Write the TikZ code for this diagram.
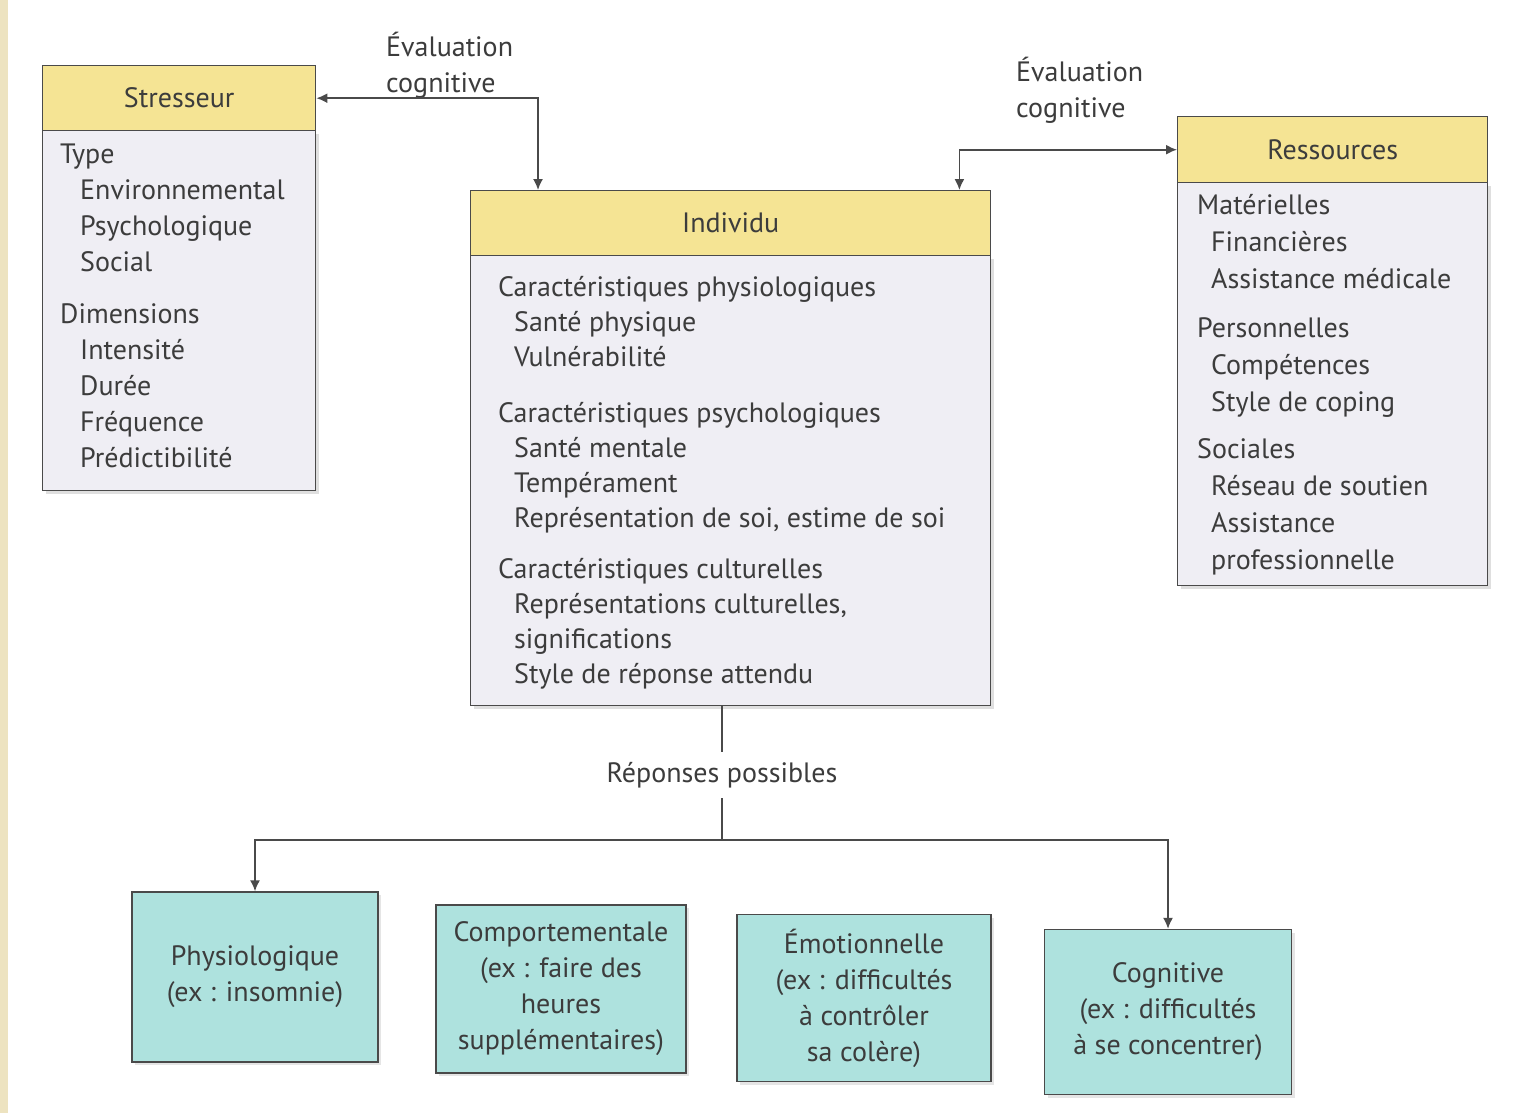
\documentclass[tikz,border=0pt]{standalone}
\usepackage{fontspec}
\setmainfont{PT Sans}
\usetikzlibrary{arrows.meta,calc,shadows}
\definecolor{hdrY}{HTML}{F5E494}
\definecolor{bodyG}{HTML}{EFEEF4}
\definecolor{respT}{HTML}{AEE2DE}
\definecolor{lineC}{HTML}{4A4A4A}
\definecolor{txtC}{HTML}{3C3C3C}
\definecolor{stripC}{HTML}{EDE3C0}
\newcommand{\ind}{\hspace*{20pt}}
\begin{document}
\begin{tikzpicture}[x=1pt,y=-1pt,
  every node/.style={text=txtC},
  fnt/.style={font=\fontsize{28}{36}\selectfont},
  hdr/.style={draw=lineC, line width=1.4, fill=hdrY, anchor=north west, fnt, inner sep=0},
  bodyb/.style={draw=lineC, line width=1.4, fill=bodyG, anchor=north west, inner sep=0,
     drop shadow={shadow xshift=3pt, shadow yshift=-3pt, opacity=0.25}},
  btxt/.style={anchor=north west, align=left, inner sep=0, fnt},
  resp/.style={draw=lineC, line width=1.4, fill=respT, align=center, inner sep=0, fnt,
     drop shadow={shadow xshift=3pt, shadow yshift=-3pt, opacity=0.2}},
  lbl/.style={inner sep=0, fnt},
  conn/.style={draw=lineC, line width=1.6},
  arr/.style={conn, -{Latex[length=11,width=10]}},
  darr/.style={conn, {Latex[length=11,width=10]}-{Latex[length=11,width=10]}}
]
\useasboundingbox (0,0) rectangle (1517,1113);
\fill[white] (0,0) rectangle (1517,1113);
\fill[stripC] (0,0) rectangle (8,1113);

% Stresseur
\node[bodyb, minimum width=273, minimum height=360] (sbody) at (42,130) {};
\node[hdr, minimum width=273, minimum height=65] (shdr) at (42,65) {Stresseur};
\node[btxt] (stxt) at ($(sbody.north west)+(18,14)$) {Type\\
\ind Environnemental\\
\ind Psychologique\\
\ind Social\\[16pt]
Dimensions\\
\ind Intensité\\
\ind Durée\\
\ind Fréquence\\
\ind Prédictibilité};

% Individu
\node[bodyb, minimum width=520, minimum height=450] (ibody) at (470,255) {};
\node[hdr, minimum width=520, minimum height=65] (ihdr) at (470,190) {Individu};
\node[btxt, font=\fontsize{28}{35}\selectfont] (itxt) at ($(ibody.north west)+(28,21)$) {Caractéristiques physiologiques\\
\hspace*{16pt}Santé physique\\
\hspace*{16pt}Vulnérabilité\\[21pt]
Caractéristiques psychologiques\\
\hspace*{16pt}Santé mentale\\
\hspace*{16pt}Tempérament\\
\hspace*{16pt}Représentation de soi, estime de soi\\[16pt]
Caractéristiques culturelles\\
\hspace*{16pt}Représentations culturelles,\\
\hspace*{16pt}significations\\
\hspace*{16pt}Style de réponse attendu};

% Ressources
\node[bodyb, minimum width=310, minimum height=403] (rbody) at (1177,182) {};
\node[hdr, minimum width=310, minimum height=66] (rhdr) at (1177,116) {Ressources};
\node[btxt, font=\fontsize{28}{37}\selectfont] (rtxt) at ($(rbody.north west)+(20,12)$) {Matérielles\\
\hspace*{14pt}Financières\\
\hspace*{14pt}Assistance médicale\\[12pt]
Personnelles\\
\hspace*{14pt}Compétences\\
\hspace*{14pt}Style de coping\\[10pt]
Sociales\\
\hspace*{14pt}Réseau de soutien\\
\hspace*{14pt}Assistance\\
\hspace*{14pt}professionnelle};

% Labels
\node[lbl, anchor=north west, align=left] (ev1) at (386,32) {Évaluation\\cognitive};
\node[lbl, anchor=north west, align=left] (ev2) at (1016,57) {Évaluation\\cognitive};
\node[lbl] (rep) at (722,775) {Réponses possibles};

% Response boxes
\node[resp, minimum width=246, minimum height=170] (phys) at (255,977) {Physiologique\\(ex : insomnie)};
\node[resp, minimum width=250, minimum height=168] (comp) at (561,989) {Comportementale\\(ex : faire des\\heures\\supplémentaires)};
\node[resp, minimum width=254, minimum height=167] (emo) at (864,998) {Émotionnelle\\(ex : difficultés\\à contrôler\\sa colère)};
\node[resp, minimum width=247, minimum height=165] (cog) at (1168,1012) {Cognitive\\(ex : difficultés\\à se concentrer)};

% Connectors
\draw[darr] (shdr.east) -| ($(ihdr.north west)+(68,0)$);
\draw[darr] ($(ihdr.north east)+(-32,0)$) |- (rhdr.west);
\coordinate (j) at (722,840);
\draw[conn] (ibody.south -| rep) -- ($(rep.north)+(0,-10)$);
\draw[conn] ($(rep.south)+(0,10)$) -- (j);
\draw[arr] (j) -| (phys.north);
\draw[arr] (j) -| (cog.north);
\end{tikzpicture}
\end{document}
